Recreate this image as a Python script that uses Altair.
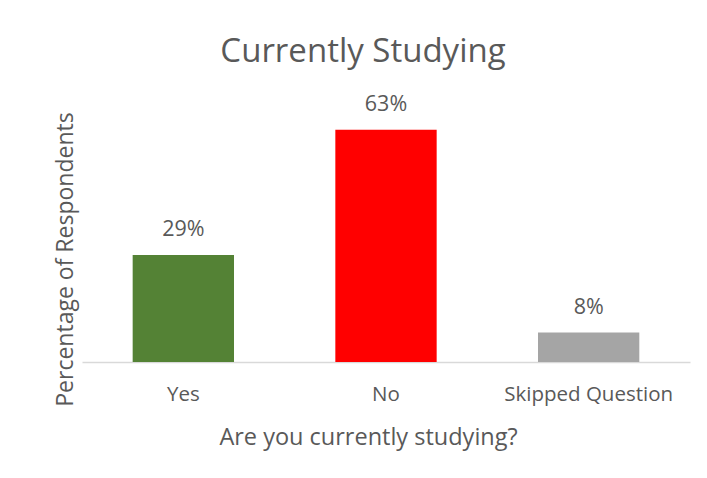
import altair as alt
import pandas as pd

categories = ["Yes", "No", "Skipped Question"]
values = [29, 63, 8]
labels = ["29%", "63%", "8%"]
colors = ["#548235", "#FF0000", "#A5A5A5"]

df = pd.DataFrame({"cat": categories, "val": values, "lab": labels, "col": colors})

FONT = "Open Sans"
TXT = "#595959"

base = alt.Chart(df).encode(
    x=alt.X("cat:N", sort=categories,
            scale=alt.Scale(paddingInner=0.5, paddingOuter=0.25),
            axis=alt.Axis(title="Are you currently studying?", labelAngle=0,
                          labelFontSize=20.5, labelColor=TXT, labelFont=FONT,
                          labelPadding=22, ticks=False, domainColor="#D9D9D9",
                          domainWidth=1.5, titleFontSize=23.5, titleColor=TXT,
                          titleFont=FONT, titleFontWeight="normal",
                          titleX=286, titleY=75, titleBaseline="middle")),
    y=alt.Y("val:Q", scale=alt.Scale(domain=[0, 70], nice=False),
            axis=alt.Axis(title="Percentage of Respondents", labels=False,
                          ticks=False, domain=False, grid=False,
                          titleFontSize=23, titleColor=TXT, titleFont=FONT,
                          titleFontWeight="normal", titleAngle=-90,
                          titleX=-17, titleY=155, titleAlign="center",
                          titleBaseline="middle")),
)

bars = base.mark_bar().encode(color=alt.Color("col:N", scale=None))
text = base.mark_text(dy=-25, baseline="middle", fontSize=21.5, font=FONT,
                      color=TXT).encode(text="lab:N")

chart = (bars + text).properties(
    width=608, height=258,
    title=alt.TitleParams("Currently Studying", fontSize=33, font=FONT,
                          fontWeight="normal", color=TXT, anchor="middle",
                          offset=25, dx=-23),
    autosize=alt.AutoSizeParams(type="none"),
    padding={"left": 74, "top": 96, "right": 9, "bottom": 100},
).configure_view(stroke=None)

chart.save("out.html", embed_options={"renderer": "svg", "actions": False})
